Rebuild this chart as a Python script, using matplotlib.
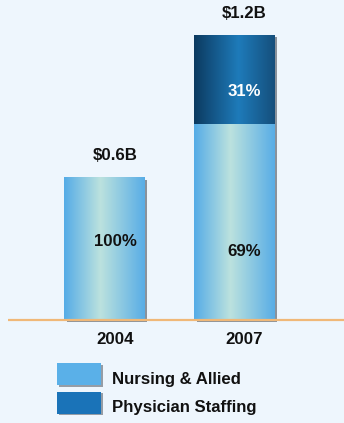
import numpy as np
import matplotlib
matplotlib.use("Agg")
import matplotlib.pyplot as plt
import matplotlib.patheffects as pe
from matplotlib.colors import LinearSegmentedColormap
from matplotlib.patches import Rectangle

years = ["2004", "2007"]
totals = [0.6, 1.2]                 # revenue, $B
nursing_pct = [100, 69]
physician_pct = [0, 31]
series_names = ["Nursing & Allied", "Physician Staffing"]

BG = "#EEF6FD"
plt.rcParams["font.family"] = ["Liberation Sans", "DejaVu Sans"]
plt.rcParams["font.weight"] = "bold"

light_cmap = LinearSegmentedColormap.from_list(
    "light", [(0, "#55ACE7"), (0.45, "#BCE2DE"), (1, "#58ADE6")])
dark_cmap = LinearSegmentedColormap.from_list(
    "dark", [(0, "#0C3A60"), (0.55, "#1E7BBA"), (1, "#154F7C")])

fig = plt.figure(figsize=(3.44, 4.23), dpi=100, facecolor=BG)
ax = fig.add_axes([0, 0, 1, 1])
ax.set_facecolor(BG)
ax.set_xlim(-0.803, 1.853)
ax.set_ylim(-0.4346, 1.350)
ax.axis("off")

x = np.arange(len(years))
width = 0.618
nursing = [t * p / 100 for t, p in zip(totals, nursing_pct)]
physician = [t * p / 100 for t, p in zip(totals, physician_pct)]

shadow = [pe.SimplePatchShadow(offset=(2.2, -1.4), shadow_rgbFace="#7F8790", alpha=0.9),
          pe.Normal()]
gradient = np.linspace(0, 1, 256).reshape(1, -1)

def gradient_bars(bars, cmap):
    for r in bars:
        h = r.get_height()
        if h <= 0:
            r.set_visible(False)
            continue
        r.set_path_effects(shadow)
        x0, y0 = r.get_x(), r.get_y()
        ax.imshow(gradient, cmap=cmap, aspect="auto", zorder=3,
                  extent=(x0, x0 + r.get_width(), y0, y0 + h),
                  interpolation="bilinear")

b1 = ax.bar(x, nursing, width, color="#5AB0E8", zorder=2, linewidth=0)
b2 = ax.bar(x, physician, width, bottom=nursing, color="#1A73B8", zorder=2, linewidth=0)
gradient_bars(b1, light_cmap)
gradient_bars(b2, dark_cmap)

# baseline
ax.plot([-0.74, 1.853], [0, 0], color="#F0B878", lw=1.6, zorder=4,
        solid_capstyle="butt")

fs = 12.1
tx = 0.085  # text sits slightly right of bar centre
txt = dict(ha="center", va="center", fontsize=fs, fontweight="bold")
for i in range(len(years)):
    ax.text(x[i] + tx, totals[i] + 0.093, f"${totals[i]:.1f}B", color="#111111", **txt)
    ax.text(x[i] + tx, -0.081, years[i], color="#111111", **txt)
    frac = 0.55 if physician_pct[i] == 0 else 0.35
    ax.text(x[i] + tx, nursing[i] * frac, f"{nursing_pct[i]}%", color="#111111", **txt)
    if physician_pct[i] > 0:
        ax.text(x[i] + tx, nursing[i] + physician[i] * 0.36, f"{physician_pct[i]}%",
                color="white", **txt)

# legend
sw_colors = ["#5AB0E8", "#1A73B8"]
for k, (name, c) in enumerate(zip(series_names, sw_colors)):
    top_px = 363 + 28.5 * k
    rect = Rectangle((57 / 344, 1 - (top_px + 22) / 423), 44 / 344, 22 / 423,
                     transform=fig.transFigure, facecolor=c, edgecolor="none",
                     path_effects=[pe.SimplePatchShadow(offset=(1.5, -1.2),
                                                        shadow_rgbFace="#7F8790",
                                                        alpha=0.8),
                                   pe.Normal()])
    fig.add_artist(rect)
    fig.text(112 / 344, 1 - (top_px + 20.5) / 423, name, ha="left", va="baseline",
             fontsize=fs, color="#111111", fontweight="bold")

fig.savefig("out.png", dpi=100, facecolor=BG)
